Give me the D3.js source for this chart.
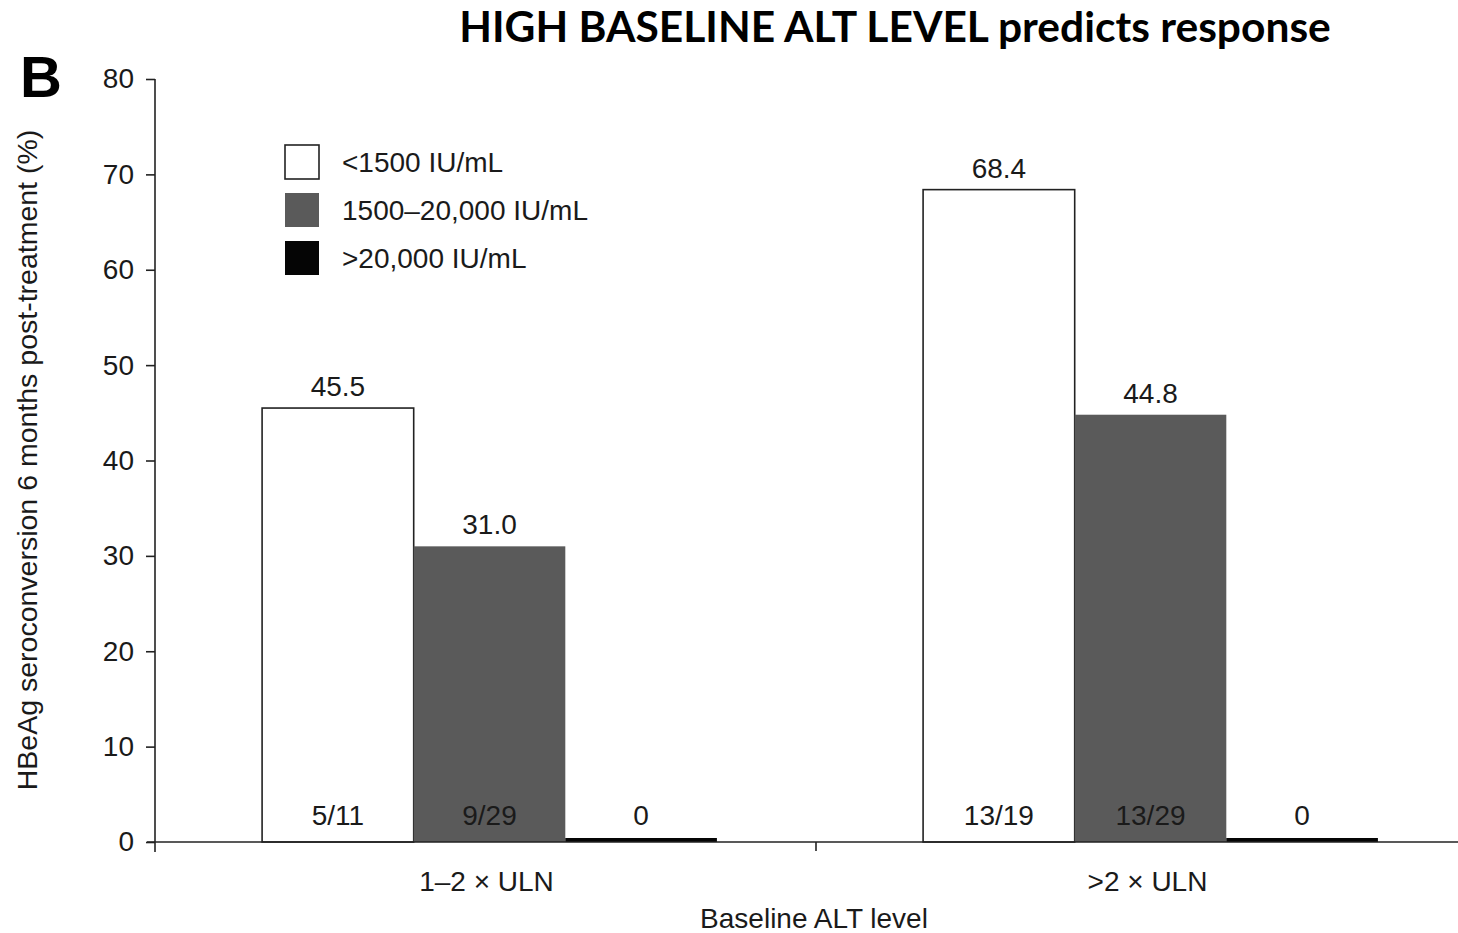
<!DOCTYPE html>
<html>
<head>
<meta charset="utf-8">
<script src="https://cdn.jsdelivr.net/npm/d3@7"></script>
<style>
  body { margin: 0; background: #fff; }
  text { font-family: "Liberation Sans", Arial, sans-serif; fill: #1a1a1a; }
</style>
</head>
<body>
<svg id="chart" width="1458" height="933"></svg>
<script>
// data
var groups = ["1\u20132 \u00d7 ULN", ">2 \u00d7 ULN"];
var series = ["<1500 IU/mL", "1500\u201320,000 IU/mL", ">20,000 IU/mL"];
var values = [
  [45.5, 31.0, 0],
  [68.4, 44.8, 0]
];
var valueLabels = [
  ["45.5", "31.0", ""],
  ["68.4", "44.8", ""]
];
var counts = [
  ["5/11", "9/29", "0"],
  ["13/19", "13/29", "0"]
];
var yTicks = [0, 10, 20, 30, 40, 50, 60, 70, 80];

var colors = ["#ffffff", "#5a5a5a", "#050505"];

var svg = d3.select("#chart");

// layout (note: "top" is taken by window.top, so plotTop)
var plotLeft = 155, plotTop = 79, plotBottom = 842, bandW = 661;
var fs = "28px";

var y = d3.scaleLinear().domain([0, 80]).range([plotBottom, plotTop]);
var x0 = d3.scaleBand().domain(groups).range([plotLeft, plotLeft + 2 * bandW]).paddingInner(0).paddingOuter(0);
// three bars touching each other, roughly centred in the group (a bit right of centre in the original)
var x1 = d3.scaleBand().domain(series).range([4, bandW + 4]).paddingOuter(0.68).paddingInner(0);

// title + panel letter
svg.append("text").attr("x", 895).attr("y", 42).attr("text-anchor", "middle")
  .style("font-family", "Lato, sans-serif").style("font-weight", "bold")
  .style("font-size", "42.5px").style("fill", "#000")
  .text("HIGH BASELINE ALT LEVEL predicts response");
svg.append("text").attr("x", 20).attr("y", 97)
  .style("font-weight", "bold").style("font-size", "58px").style("fill", "#000")
  .text("B");

// bars
var g = svg.append("g");
groups.forEach(function(grp, gi) {
  var gx = x0(grp);
  series.forEach(function(s, si) {
    var v = values[gi][si];
    var h = Math.max(plotBottom - y(v), 4); // zero bars still show as a thin black line
    g.append("rect")
      .attr("x", gx + x1(s))
      .attr("y", plotBottom - h)
      .attr("width", x1.bandwidth())
      .attr("height", h)
      .attr("fill", colors[si])
      .attr("stroke", si === 0 ? "#222" : "none")
      .attr("stroke-width", 1.6);
    if (valueLabels[gi][si]) {
      g.append("text")
        .attr("x", gx + x1(s) + x1.bandwidth() / 2)
        .attr("y", y(v) - 12)
        .attr("text-anchor", "middle")
        .style("font-size", fs)
        .text(valueLabels[gi][si]);
    }
    g.append("text")
      .attr("x", gx + x1(s) + x1.bandwidth() / 2)
      .attr("y", plotBottom - 17)
      .attr("text-anchor", "middle")
      .style("font-size", fs)
      .text(counts[gi][si]);
  });
});

// y axis
var yAxis = d3.axisLeft(y).tickValues(yTicks).tickSize(9).tickPadding(12);
var ya = svg.append("g").attr("transform", "translate(" + plotLeft + ",0)").call(yAxis);
ya.select(".domain").attr("d", "M0," + plotTop + "V" + (plotBottom + 10)).attr("stroke", "#222").attr("stroke-width", 1.6);
ya.selectAll(".tick line").attr("stroke", "#222").attr("stroke-width", 1.6);
ya.selectAll(".tick text").style("font-family", "'Liberation Sans', Arial, sans-serif")
  .style("font-size", fs).attr("fill", "#1a1a1a");

// x axis line with separator ticks
svg.append("line").attr("x1", plotLeft - 8).attr("x2", 1458).attr("y1", plotBottom).attr("y2", plotBottom)
  .attr("stroke", "#222").attr("stroke-width", 1.6);
svg.append("line").attr("x1", plotLeft + bandW).attr("x2", plotLeft + bandW).attr("y1", plotBottom).attr("y2", plotBottom + 9)
  .attr("stroke", "#222").attr("stroke-width", 1.6);

groups.forEach(function(grp) {
  svg.append("text").attr("x", x0(grp) + bandW / 2 + 1).attr("y", 891)
    .attr("text-anchor", "middle").style("font-size", fs).text(grp);
});
svg.append("text").attr("x", 814).attr("y", 928).attr("text-anchor", "middle")
  .style("font-size", fs).text("Baseline ALT level");

svg.append("text").attr("transform", "translate(37,460) rotate(-90)")
  .attr("text-anchor", "middle").style("font-size", "28.5px")
  .text("HBeAg seroconversion 6 months post-treatment (%)");

// legend
var leg = svg.append("g").attr("transform", "translate(285,145)");
series.forEach(function(s, i) {
  var row = leg.append("g").attr("transform", "translate(0," + (i * 48) + ")");
  row.append("rect").attr("width", 34).attr("height", 34)
    .attr("fill", colors[i]).attr("stroke", i === 0 ? "#222" : "none").attr("stroke-width", 1.6);
  row.append("text").attr("x", 57).attr("y", 27).style("font-size", fs).text(s);
});
</script>
</body>
</html>
